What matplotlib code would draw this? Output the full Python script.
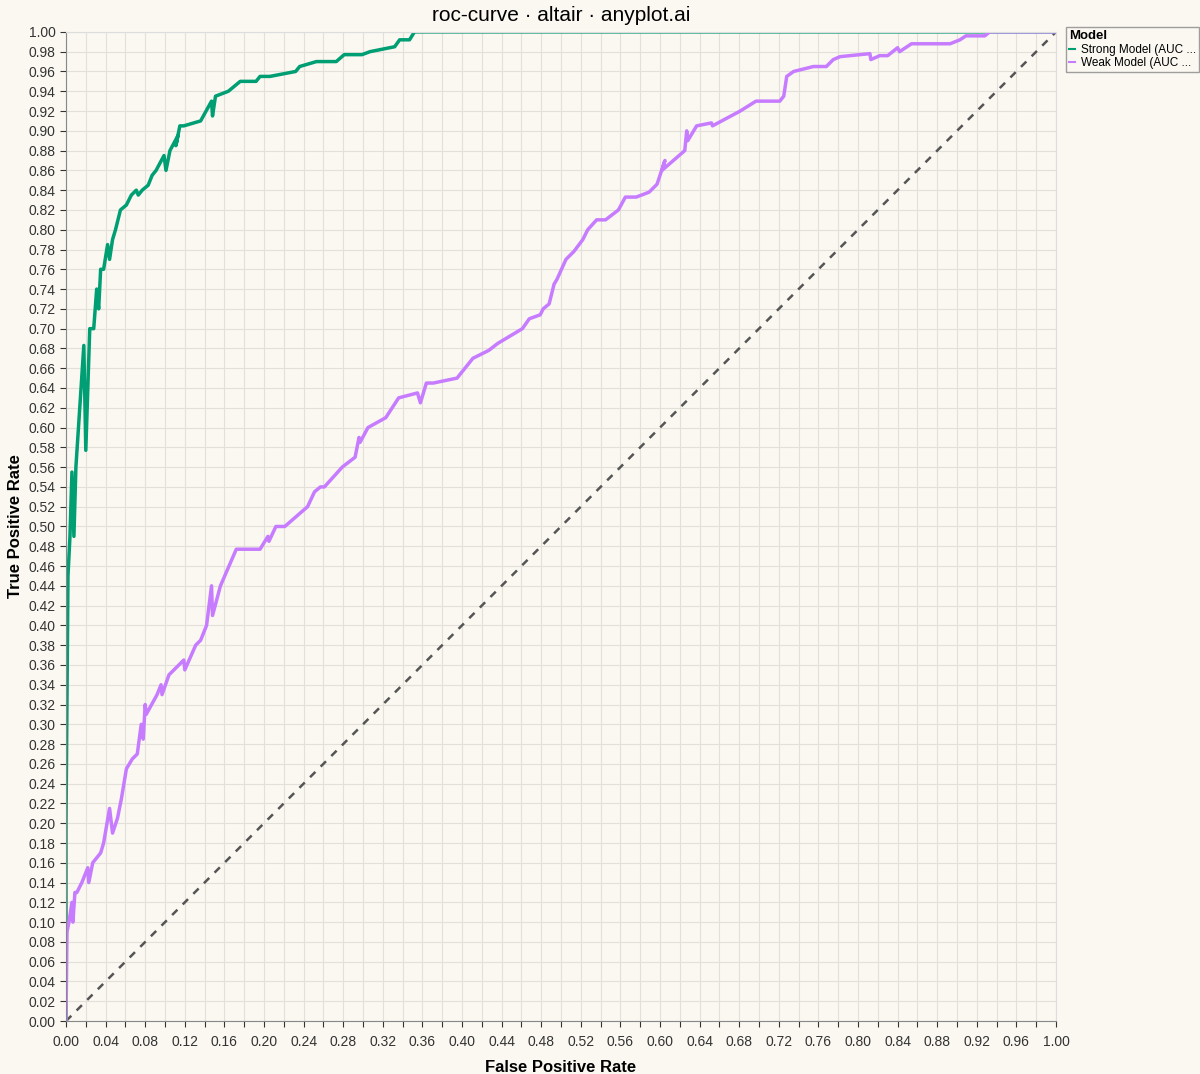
import matplotlib
matplotlib.use("Agg")
import matplotlib.pyplot as plt
import numpy as np

plt.rcParams['font.family'] = ['Liberation Sans', 'DejaVu Sans']

strong_fpr = [0,0,0.002,0.004,0.006,0.008,0.010,0.018,0.020,0.024,0.028,0.031,0.033,0.035,0.038,0.042,0.044,0.047,0.050,0.055,0.061,0.066,0.071,0.073,0.077,0.083,0.087,0.091,0.099,0.101,0.105,0.113,0.111,0.115,0.119,0.136,0.147,0.148,0.151,0.164,0.170,0.176,0.180,0.192,0.196,0.206,0.232,0.236,0.253,0.273,0.281,0.299,0.307,0.332,0.337,0.347,0.352,1.0]
strong_tpr = [0,0.2,0.45,0.49,0.555,0.49,0.56,0.683,0.577,0.70,0.70,0.74,0.72,0.76,0.76,0.785,0.77,0.79,0.80,0.82,0.825,0.835,0.84,0.835,0.84,0.845,0.855,0.86,0.875,0.86,0.88,0.895,0.885,0.905,0.905,0.91,0.93,0.915,0.935,0.94,0.945,0.95,0.95,0.95,0.955,0.955,0.96,0.965,0.97,0.97,0.977,0.977,0.98,0.985,0.992,0.992,1.0,1.0]

weak_fpr = [0,0.001,0.003,0.006,0.007,0.009,0.011,0.016,0.022,0.023,0.027,0.035,0.038,0.044,0.047,0.052,0.056,0.061,0.067,0.072,0.076,0.078,0.080,0.081,0.092,0.096,0.097,0.104,0.119,0.120,0.131,0.136,0.142,0.147,0.148,0.156,0.172,0.196,0.204,0.205,0.212,0.221,0.244,0.251,0.257,0.261,0.279,0.292,0.296,0.297,0.305,0.323,0.336,0.355,0.358,0.364,0.371,0.395,0.411,0.427,0.436,0.461,0.468,0.479,0.482,0.488,0.493,0.496,0.505,0.513,0.522,0.527,0.536,0.545,0.558,0.565,0.576,0.589,0.597,0.605,0.602,0.625,0.627,0.628,0.637,0.652,0.653,0.681,0.697,0.721,0.725,0.728,0.735,0.755,0.768,0.775,0.782,0.812,0.813,0.822,0.830,0.840,0.842,0.854,0.893,0.903,0.909,0.928,0.933,1.0]
weak_tpr = [0,0.09,0.10,0.12,0.10,0.13,0.13,0.14,0.155,0.14,0.16,0.17,0.18,0.215,0.19,0.205,0.225,0.255,0.265,0.27,0.30,0.285,0.32,0.31,0.33,0.34,0.33,0.35,0.365,0.355,0.38,0.385,0.40,0.44,0.41,0.44,0.477,0.477,0.49,0.485,0.50,0.50,0.52,0.535,0.54,0.54,0.56,0.57,0.59,0.585,0.60,0.61,0.63,0.635,0.625,0.645,0.645,0.65,0.67,0.678,0.685,0.70,0.71,0.714,0.72,0.725,0.745,0.75,0.77,0.778,0.79,0.80,0.81,0.81,0.82,0.833,0.833,0.838,0.846,0.87,0.86,0.88,0.90,0.89,0.905,0.908,0.905,0.92,0.93,0.93,0.935,0.955,0.96,0.965,0.965,0.972,0.975,0.978,0.972,0.976,0.976,0.984,0.98,0.988,0.988,0.992,0.996,0.996,1.0,1.0]

labels = ["Strong Model (AUC ...", "Weak Model (AUC ..."]
colors = ["#009E73", "#C77CFF"]
bg = "#FAF8F1"

fig = plt.figure(figsize=(12, 10.74), dpi=100, facecolor=bg)
ax = fig.add_axes([0.055, 0.0493, 0.825, 0.921], facecolor=bg)
ax.plot([0, 1], [0, 1], ls=(0, (3, 3)), color="#555555", lw=1.8)
ax.plot(strong_fpr, strong_tpr, color=colors[0], lw=2.5, label=labels[0])
ax.plot(weak_fpr, weak_tpr, color=colors[1], lw=2.5, label=labels[1])
ax.set_xlim(0, 1); ax.set_ylim(0, 1)
ticks = np.round(np.arange(0, 1.001, 0.02), 2)
ax.set_yticks(ticks)
ax.set_yticklabels([f"{t:.2f}" for t in ticks])
ax.set_xticks(ticks)
ax.set_xticklabels([f"{t:.2f}" if i % 2 == 0 else "" for i, t in enumerate(ticks)])
ax.tick_params(labelsize=10, colors="#333333", length=4)
ax.tick_params(axis="x", pad=6)
ax.grid(True, color="#e2e0d8", lw=0.8)
ax.set_axisbelow(True)
for s in ["top", "right"]:
    ax.spines[s].set_color("#dddddd")
for s in ["left", "bottom"]:
    ax.spines[s].set_color("#888888")
ax.set_xlabel("False Positive Rate", fontsize=12, fontweight="bold", labelpad=8)
ax.set_ylabel("True Positive Rate", fontsize=12, fontweight="bold", labelpad=4)
ax.set_title("roc-curve · altair · anyplot.ai", fontsize=15, pad=8)
leg = ax.legend(loc="upper left", bbox_to_anchor=(1.01, 1.005), title="Model", fontsize=8.5,
                title_fontsize=9.5, handlelength=0.5, frameon=True, fancybox=False,
                borderpad=0.25, labelspacing=0.15, handletextpad=0.5, borderaxespad=0.0)
leg.get_title().set_fontweight("bold")
leg._legend_box.align = "left"
leg.get_frame().set_edgecolor("#888888")
leg.get_frame().set_facecolor(bg)
for l in leg.get_lines():
    l.set_linewidth(1.5)
fig.savefig("out.png", facecolor=bg)
